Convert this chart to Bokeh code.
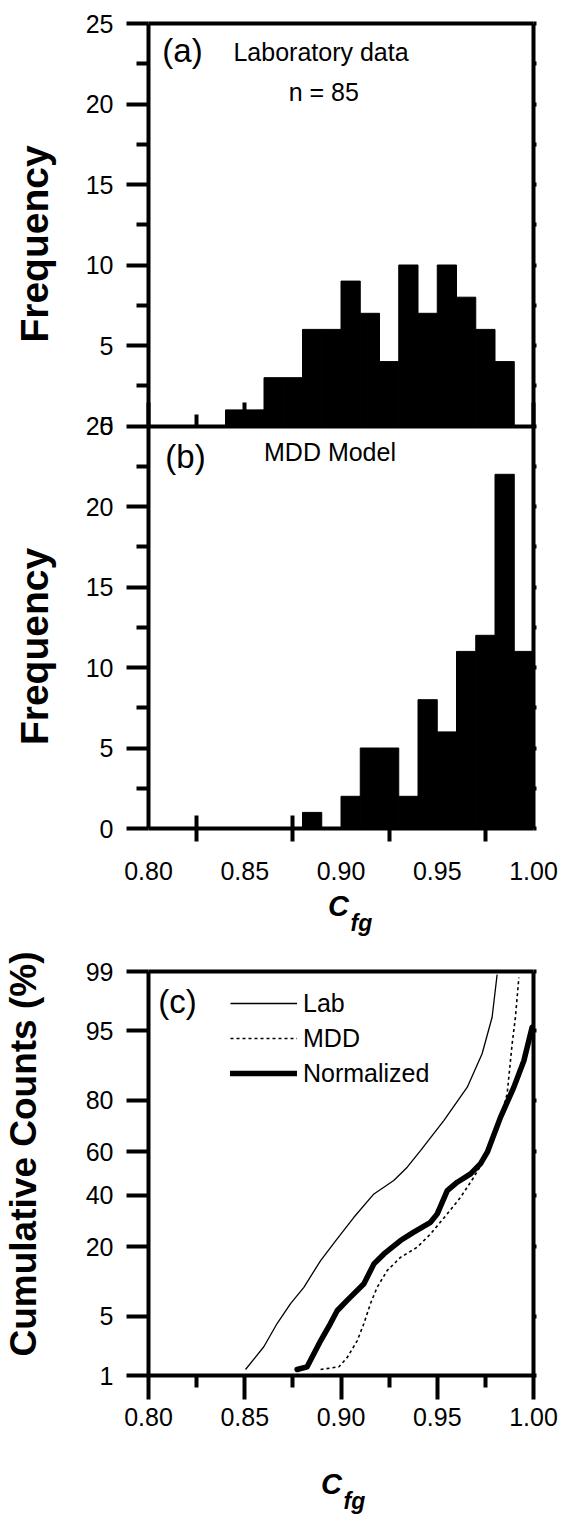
import math
from statistics import NormalDist
from bokeh.plotting import figure
from bokeh.models import (Range1d, LinearAxis, FixedTicker, Label, Legend,
                          LegendItem, CustomJSTickFormatter)
from bokeh.layouts import column
from bokeh.embed import file_html
from bokeh.resources import INLINE

# ---------------- data ----------------
x_ticks = [0.80, 0.85, 0.90, 0.95, 1.00]
x_tick_labels = ["0.80", "0.85", "0.90", "0.95", "1.00"]
x_minor_ticks = [0.825, 0.875, 0.925, 0.975]

freq_ticks = [0, 5, 10, 15, 20, 25]
bin_width = 0.01

lab_bin_left = [0.84, 0.85, 0.86, 0.87, 0.88, 0.89, 0.90, 0.91, 0.92, 0.93,
                0.94, 0.95, 0.96, 0.97, 0.98]
lab_counts = [1, 1, 3, 3, 6, 6, 9, 7, 4, 10, 7, 10, 8, 6, 4]

mdd_bin_left = [0.88, 0.89, 0.90, 0.91, 0.92, 0.93, 0.94, 0.95, 0.96, 0.97,
                0.98, 0.99]
mdd_counts = [1, 0, 2, 5, 5, 2, 8, 6, 11, 12, 22, 11]

cum_ticks = [1, 5, 20, 40, 60, 80, 95, 99]
cum_tick_labels = ["1", "5", "20", "40", "60", "80", "95", "99"]

lab_cfg = [0.8504, 0.8599, 0.8668, 0.8738, 0.8807, 0.8894, 0.8980, 0.9067,
           0.9171, 0.9274, 0.9344, 0.9413, 0.9534, 0.9656, 0.9733, 0.9785,
           0.9811]
lab_pct = [1.2, 2.3, 4.2, 6.7, 9.5, 15.8, 22.6, 30.7, 40.7, 46.8, 52.9, 60.4,
           72.9, 84.0, 91.6, 96.4, 98.9]

mdd_cfg = [0.8894, 0.8989, 0.9032, 0.9084, 0.9119, 0.9153, 0.9188, 0.9240,
           0.9309, 0.9396, 0.9465, 0.9552, 0.9621, 0.9690, 0.9742, 0.9787,
           0.9829, 0.9863, 0.9889, 0.9906, 0.9924]
mdd_pct = [1.2, 1.3, 1.7, 2.7, 4.2, 6.7, 9.5, 13.2, 16.7, 19.8, 24.3, 32.1,
           39.2, 48.3, 56.0, 65.0, 74.0, 82.0, 93.2, 96.4, 98.8]

norm_cfg = [0.8772, 0.8824, 0.8859, 0.8894, 0.8945, 0.8980, 0.9032, 0.9119,
            0.9171, 0.9223, 0.9309, 0.9378, 0.9465, 0.9500, 0.9552, 0.9604,
            0.9673, 0.9725, 0.9760, 0.9829, 0.9898, 0.9950, 0.9993]
norm_pct = [1.2, 1.3, 1.9, 2.7, 4.2, 5.7, 7.2, 10.2, 14.9, 17.7, 22.0, 25.0,
            28.7, 32.1, 42.2, 46.0, 49.8, 54.5, 59.7, 74.2, 84.0, 90.3, 95.4]

# ---------------- layout constants (page pixels) ----------------
FONT = "Liberation Sans"
LW = 4
W = 561
H1, H2 = 944, 576
FRAME_L, FRAME_R = 148, 533
A_TOP, B_BOT = 23, 828
C_TOP, C_BOT = 971, 1375
C_ORIGIN = H1

nd = NormalDist()


def probit(pct):
    return nd.inv_cdf(pct / 100.0)


X0, X1 = x_ticks[0], x_ticks[-1]
FMAX = freq_ticks[-1]
Z1, Z99 = probit(cum_ticks[0]), probit(cum_ticks[-1])
PXX = (FRAME_R - FRAME_L) / (X1 - X0)
PYB = (B_BOT - A_TOP) / (2 * FMAX)
PZ = (C_BOT - C_TOP) / (Z99 - Z1)


def px2x(px):
    return X0 + (px - FRAME_L) / PXX


def py2b(py):
    return (B_BOT - py) / PYB


def py2a(py):
    return py2b(py) - FMAX


def py2z(py):
    return Z1 + (C_BOT - py) / PZ


def style_axis(ax):
    ax.axis_line_width = LW
    ax.axis_line_color = "black"
    ax.major_tick_line_width = LW
    ax.minor_tick_line_width = LW
    ax.major_tick_line_color = "black"
    ax.minor_tick_line_color = "black"
    ax.major_label_text_font = FONT
    ax.major_label_text_font_size = "25px"
    ax.major_label_text_color = "black"
    ax.major_tick_in = 0
    ax.major_tick_out = 0
    ax.minor_tick_in = 0
    ax.minor_tick_out = 0


def add_axis(p, side, fixed, bounds, ticks, minor=(), overrides=None,
             blank=False, **kw):
    ax = LinearAxis(fixed_location=fixed, bounds=bounds,
                    ticker=FixedTicker(ticks=list(ticks), minor_ticks=list(minor)))
    style_axis(ax)
    if blank:
        ax.formatter = CustomJSTickFormatter(code="return ''")
    elif overrides is not None:
        ax.major_label_overrides = overrides
    for k, v in kw.items():
        setattr(ax, k, v)
    p.add_layout(ax, side)
    return ax


def txt(p, text, x, y, size, style="normal", align="center", baseline="middle",
        angle=0.0, y_range_name="default", x_offset=0, y_offset=0):
    lab = Label(x=x, y=y, text=text, text_font=FONT, text_font_size=size,
                text_font_style=style, text_align=align, text_baseline=baseline,
                angle=angle, text_color="black", y_range_name=y_range_name,
                x_offset=x_offset, y_offset=y_offset)
    p.add_layout(lab)
    return lab


# ---------------- panels (a) + (b) ----------------
p1 = figure(width=W, height=H1, x_range=Range1d(px2x(0), px2x(W)),
            y_range=Range1d(py2b(H1), py2b(0)), output_backend="svg",
            toolbar_location=None, min_border=0, x_axis_type=None,
            y_axis_type=None)
p1.extra_y_ranges = {"a": Range1d(py2a(H1), py2a(0))}
p1.outline_line_color = None

p1.quad(left=lab_bin_left, right=[v + bin_width for v in lab_bin_left],
        bottom=0, top=lab_counts, y_range_name="a",
        fill_color="black", line_color="black", line_width=1)
p1.quad(left=mdd_bin_left, right=[v + bin_width for v in mdd_bin_left],
        bottom=0, top=mdd_counts,
        fill_color="black", line_color="black", line_width=1)

ab_major = freq_ticks + [t + FMAX for t in freq_ticks[1:]]
ab_minor = [t + 2.5 for t in ab_major[:-1]]
ab_over = {t: str(t) for t in freq_ticks}
ab_over.update({t + FMAX: str(t) for t in freq_ticks[1:]})

# left axis shared by (a) and (b)
add_axis(p1, "left", X0, (0, 2 * FMAX), ab_major, ab_minor, overrides=ab_over,
         major_tick_out=22, minor_tick_out=12, major_label_standoff=13)
# right frame edge
add_axis(p1, "right", X1, (0, 2 * FMAX), sorted(ab_major + ab_minor),
         blank=True, major_tick_out=3)
# top frame edge of (a)
add_axis(p1, "above", 2 * FMAX, (X0, X1), [], blank=True)
# bottom of (a): inward ticks
add_axis(p1, "below", FMAX, (X0, X1), x_ticks, x_minor_ticks, blank=True,
         major_tick_in=24, minor_tick_in=12)
# bottom of (b): labels, crossing minor ticks
add_axis(p1, "below", 0, (X0, X1), x_ticks, x_minor_ticks,
         overrides=dict(zip(x_ticks, x_tick_labels)),
         minor_tick_in=13, minor_tick_out=13, major_label_standoff=20)

# the "0" of panel (a) printed over the "25" of panel (b)
txt(p1, str(freq_ticks[0]), X0, 0, "25px", align="right", baseline="middle",
    y_range_name="a", x_offset=-35)

txt(p1, "(a)", px2x(182), py2a(50), "33px", y_range_name="a")
txt(p1, "Laboratory data", px2x(320.5), py2a(51.5), "25px", y_range_name="a")
txt(p1, "n = 85", px2x(323.3), py2a(91), "25px", y_range_name="a")
txt(p1, "Frequency", px2x(34), py2a(243.5), "39px", style="bold",
    angle=math.pi / 2, y_range_name="a")
txt(p1, "(b)", px2x(185), py2b(455.5), "33px")
txt(p1, "MDD Model", px2x(329.5), py2b(451), "25px")
txt(p1, "Frequency", px2x(34), py2b(646), "39px", style="bold",
    angle=math.pi / 2)
txt(p1, "C", px2x(338), py2b(905), "29px", style="bold italic")
txt(p1, "fg", px2x(350), py2b(922), "23px", style="bold italic", align="left")

# ---------------- panel (c) ----------------
p2 = figure(width=W, height=H2, x_range=Range1d(px2x(0), px2x(W)),
            y_range=Range1d(py2z(C_ORIGIN + H2), py2z(C_ORIGIN)),
            output_backend="svg", toolbar_location=None, min_border=0,
            x_axis_type=None, y_axis_type=None)
p2.outline_line_color = None

r_lab = p2.line(lab_cfg, [probit(v) for v in lab_pct], line_color="black",
                line_width=1.3)
r_mdd = p2.line(mdd_cfg, [probit(v) for v in mdd_pct], line_color="black",
                line_width=1.6, line_dash="3 3")
r_norm = p2.line(norm_cfg, [probit(v) for v in norm_pct], line_color="black",
                 line_width=5.5, line_join="round", line_cap="round")

zt = [probit(v) for v in cum_ticks]
add_axis(p2, "left", X0, (Z1, Z99), zt, overrides=dict(zip(zt, cum_tick_labels)),
         major_tick_out=22, major_label_standoff=13)
add_axis(p2, "right", X1, (Z1, Z99), zt, blank=True, major_tick_out=3)
add_axis(p2, "above", Z99, (X0, X1), [], blank=True)
add_axis(p2, "below", Z1, (X0, X1), x_ticks, x_minor_ticks,
         overrides=dict(zip(x_ticks, x_tick_labels)),
         major_tick_out=24, minor_tick_out=12, major_label_standoff=8)

legend = Legend(items=[LegendItem(label="Lab", renderers=[r_lab]),
                       LegendItem(label="MDD", renderers=[r_mdd]),
                       LegendItem(label="Normalized", renderers=[r_norm])],
                location=(230, H2 - (1088 - C_ORIGIN)), glyph_width=67,
                glyph_height=30, label_height=30, label_standoff=6, spacing=5,
                padding=0, margin=0, border_line_alpha=0,
                background_fill_alpha=0, label_text_font=FONT,
                label_text_font_size="25px", label_text_color="black")
p2.add_layout(legend)

txt(p2, "(c)", px2x(177), py2z(1001), "33px")
txt(p2, "Cumulative Counts (%)", px2x(23), py2z(1153.5), "37px",
    style="bold", angle=math.pi / 2)
txt(p2, "C", px2x(331), py2z(1483), "29px", style="bold italic")
txt(p2, "fg", px2x(343), py2z(1500), "23px", style="bold italic", align="left")

layout = column(p1, p2)
open("out.html", "w").write(file_html(layout, INLINE))
